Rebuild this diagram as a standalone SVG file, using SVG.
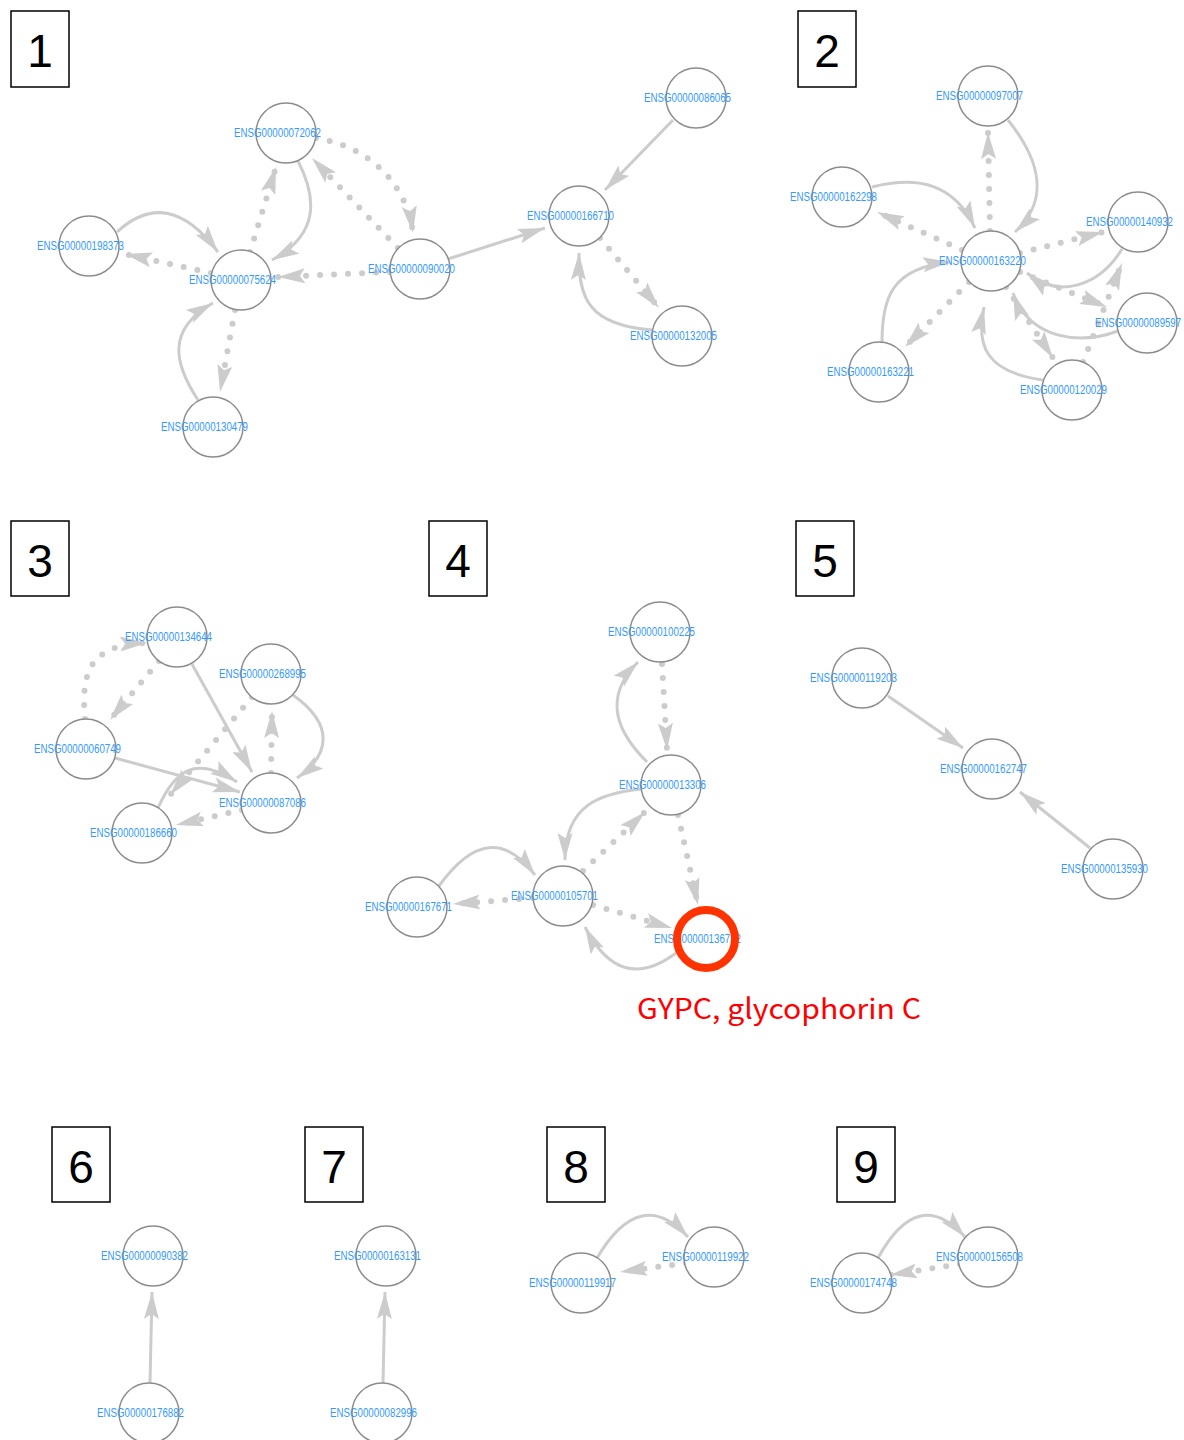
<svg xmlns="http://www.w3.org/2000/svg" width="1184" height="1440" viewBox="0 0 1184 1440">
<style>
.bg{fill:#ffffff}
.box{fill:none;stroke:#000;stroke-width:1.5}
.num{font-family:"Liberation Sans",Arial,sans-serif;font-size:46px;fill:#000;text-anchor:middle}
.s{fill:none;stroke:#cccccc;stroke-width:3;marker-end:url(#arr)}
.d{fill:none;stroke:#cccccc;stroke-width:6;stroke-linecap:round;stroke-dasharray:0 14;marker-end:url(#arr)}
.n circle{fill:#ffffff;stroke:#8c8c8c;stroke-width:1.5}
.n text{font-family:"Liberation Sans",Arial,sans-serif;font-size:12px;fill:#3399ff;text-anchor:middle}
.n circle.hl{fill:none;stroke:#ff3300;stroke-width:8}
.gy{font-family:"Noto Sans CJK JP","Noto Sans",sans-serif;font-size:28px;fill:#ff0000}
</style>
<defs>
<marker id="arr" viewBox="0 0 27 15" refX="27" refY="7.5" markerWidth="27" markerHeight="15" orient="auto" markerUnits="userSpaceOnUse">
<path d="M0,0 L27,7.5 L0,15 L5,7.5 Z" fill="#cccccc"/>
</marker>
</defs>
<rect class="bg" x="0" y="0" width="1184" height="1440"/>
<g id="panels">
<rect class="box" x="11" y="11" width="58" height="76"/><text class="num" x="40" y="67">1</text>
<rect class="box" x="798" y="11" width="58" height="76"/><text class="num" x="827" y="67">2</text>
<rect class="box" x="11" y="521" width="58" height="75"/><text class="num" x="40" y="577">3</text>
<rect class="box" x="429" y="521" width="58" height="75"/><text class="num" x="458" y="577">4</text>
<rect class="box" x="796" y="521" width="58" height="75"/><text class="num" x="825" y="577">5</text>
<rect class="box" x="52" y="1127" width="58" height="75"/><text class="num" x="81" y="1183">6</text>
<rect class="box" x="305" y="1127" width="58" height="75"/><text class="num" x="334" y="1183">7</text>
<rect class="box" x="547" y="1127" width="58" height="75"/><text class="num" x="576" y="1183">8</text>
<rect class="box" x="837" y="1127" width="58" height="75"/><text class="num" x="866" y="1183">9</text>
</g>
<g id="connectors">
<path class="s" d="M117,232 Q168,185 218,252"/>
<path class="d" d="M211,273 L125,254"/>
<path class="d" d="M250,252 L276,167"/>
<path class="s" d="M298,161 C318,200 318,235 272,260"/>
<path class="d" d="M390,272 L278,277"/>
<path class="d" d="M398,248 L312,158"/>
<path class="d" d="M316,138 C360,145 405,175 413,233"/>
<path class="s" d="M448,259 L545,228"/>
<path class="s" d="M198,400 C175,365 165,330 213,303"/>
<path class="d" d="M235,310 L220,392"/>
<path class="s" d="M673,120 L605,190"/>
<path class="d" d="M600,238 L659,308"/>
<path class="s" d="M652,330 C590,325 578,300 579,253"/>
<path class="d" d="M990,231 L988,132"/>
<path class="s" d="M1008,120 C1040,160 1050,200 1015,232"/>
<path class="s" d="M872,187 C920,175 955,185 975,228"/>
<path class="d" d="M962,250 L877,212"/>
<path class="d" d="M1020,253 L1103,232"/>
<path class="s" d="M1122,249 C1100,285 1060,300 1027,273"/>
<path class="d" d="M1020,272 L1107,307"/>
<path class="s" d="M1118,331 C1080,345 1030,340 1013,293"/>
<path class="d" d="M1083,362 L1122,263"/>
<path class="s" d="M1043,380 C985,372 976,345 984,307"/>
<path class="d" d="M1006,287 L1053,358"/>
<path class="d" d="M969,282 L905,347"/>
<path class="s" d="M882,342 C882,300 890,268 950,262"/>
<path class="d" d="M85,719 C80,665 95,645 147,643"/>
<path class="d" d="M159,661 L110,720"/>
<path class="s" d="M192,664 L252,772"/>
<path class="s" d="M293,695 C335,725 330,755 297,778"/>
<path class="d" d="M271,773 L272,711"/>
<path class="s" d="M115,758 L240,792"/>
<path class="d" d="M242,810 L176,825"/>
<path class="s" d="M158,808 C175,770 195,755 237,782"/>
<path class="d" d="M252,697 L170,795"/>
<path class="s" d="M647,762 C620,735 600,700 638,662"/>
<path class="d" d="M662,664 L667,750"/>
<path class="s" d="M642,789 C600,793 565,805 565,860"/>
<path class="d" d="M583,871 L645,812"/>
<path class="d" d="M678,815 L698,905"/>
<path class="s" d="M439,886 Q490,815 535,875"/>
<path class="d" d="M533,898 L453,904"/>
<path class="d" d="M593,905 L672,928"/>
<path class="s" d="M676,953 Q620,995 585,927"/>
<path class="s" d="M888,696 L963,748"/>
<path class="s" d="M1090,848 L1020,792"/>
<path class="s" d="M150,1383 L152,1292"/>
<path class="s" d="M383,1383 L385,1292"/>
<path class="s" d="M597,1258 Q640,1185 688,1237"/>
<path class="d" d="M686,1263 L620,1272"/>
<path class="s" d="M878,1258 Q918,1185 965,1237"/>
<path class="d" d="M960,1264 L890,1275"/>
</g>
<g id="n72062" class="n"><circle cx="286" cy="133" r="30"/><text x="277.5" y="137" textLength="87" lengthAdjust="spacingAndGlyphs">ENSG00000072062</text></g>
<g id="n198373" class="n"><circle cx="89" cy="246" r="30"/><text x="80.5" y="250" textLength="87" lengthAdjust="spacingAndGlyphs">ENSG00000198373</text></g>
<g id="n75624" class="n"><circle cx="241" cy="280" r="30"/><text x="232.5" y="284" textLength="87" lengthAdjust="spacingAndGlyphs">ENSG00000075624</text></g>
<g id="n90020" class="n"><circle cx="420" cy="269" r="30"/><text x="411.5" y="273" textLength="87" lengthAdjust="spacingAndGlyphs">ENSG00000090020</text></g>
<g id="n130479" class="n"><circle cx="213" cy="427" r="30"/><text x="204.5" y="431" textLength="87" lengthAdjust="spacingAndGlyphs">ENSG00000130479</text></g>
<g id="n86065" class="n"><circle cx="696" cy="98" r="30"/><text x="687.5" y="102" textLength="87" lengthAdjust="spacingAndGlyphs">ENSG00000086065</text></g>
<g id="n166710" class="n"><circle cx="579" cy="216" r="30"/><text x="570.5" y="220" textLength="87" lengthAdjust="spacingAndGlyphs">ENSG00000166710</text></g>
<g id="n132005" class="n"><circle cx="682" cy="336" r="30"/><text x="673.5" y="340" textLength="87" lengthAdjust="spacingAndGlyphs">ENSG00000132005</text></g>
<g id="n97007" class="n"><circle cx="988" cy="96" r="30"/><text x="979.5" y="100" textLength="87" lengthAdjust="spacingAndGlyphs">ENSG00000097007</text></g>
<g id="n162298" class="n"><circle cx="842" cy="197" r="30"/><text x="833.5" y="201" textLength="87" lengthAdjust="spacingAndGlyphs">ENSG00000162298</text></g>
<g id="n163220" class="n"><circle cx="991" cy="261" r="30"/><text x="982.5" y="265" textLength="87" lengthAdjust="spacingAndGlyphs">ENSG00000163220</text></g>
<g id="n140932" class="n"><circle cx="1138" cy="222" r="30"/><text x="1129.5" y="226" textLength="87" lengthAdjust="spacingAndGlyphs">ENSG00000140932</text></g>
<g id="n89597" class="n"><circle cx="1147" cy="323" r="30"/><text x="1138" y="327" textLength="86" lengthAdjust="spacingAndGlyphs">ENSG00000089597</text></g>
<g id="n163221" class="n"><circle cx="879" cy="372" r="30"/><text x="870.5" y="376" textLength="87" lengthAdjust="spacingAndGlyphs">ENSG00000163221</text></g>
<g id="n120029" class="n"><circle cx="1072" cy="390" r="30"/><text x="1063.5" y="394" textLength="87" lengthAdjust="spacingAndGlyphs">ENSG00000120029</text></g>
<g id="n134644" class="n"><circle cx="177" cy="637" r="30"/><text x="168.5" y="641" textLength="87" lengthAdjust="spacingAndGlyphs">ENSG00000134644</text></g>
<g id="n268995" class="n"><circle cx="271" cy="674" r="30"/><text x="262.5" y="678" textLength="87" lengthAdjust="spacingAndGlyphs">ENSG00000268995</text></g>
<g id="n60749" class="n"><circle cx="86" cy="749" r="30"/><text x="77.5" y="753" textLength="87" lengthAdjust="spacingAndGlyphs">ENSG00000060749</text></g>
<g id="n87086" class="n"><circle cx="271" cy="803" r="30"/><text x="262.5" y="807" textLength="87" lengthAdjust="spacingAndGlyphs">ENSG00000087086</text></g>
<g id="n186660" class="n"><circle cx="142" cy="833" r="30"/><text x="133.5" y="837" textLength="87" lengthAdjust="spacingAndGlyphs">ENSG00000186660</text></g>
<g id="n100225" class="n"><circle cx="660" cy="632" r="30"/><text x="651.5" y="636" textLength="87" lengthAdjust="spacingAndGlyphs">ENSG00000100225</text></g>
<g id="n13306" class="n"><circle cx="671" cy="785" r="30"/><text x="662.5" y="789" textLength="87" lengthAdjust="spacingAndGlyphs">ENSG00000013306</text></g>
<g id="n105701" class="n"><circle cx="563" cy="896" r="30"/><text x="554.5" y="900" textLength="87" lengthAdjust="spacingAndGlyphs">ENSG00000105701</text></g>
<g id="n167671" class="n"><circle cx="417" cy="907" r="30"/><text x="408.5" y="911" textLength="87" lengthAdjust="spacingAndGlyphs">ENSG00000167671</text></g>
<g id="n136732" class="n"><circle cx="706" cy="939" r="30"/><text x="697.5" y="943" textLength="87" lengthAdjust="spacingAndGlyphs">ENSG00000136732</text><circle class="hl" cx="706" cy="939" r="29"/></g>
<g id="n119203" class="n"><circle cx="862" cy="678" r="30"/><text x="853.5" y="682" textLength="87" lengthAdjust="spacingAndGlyphs">ENSG00000119203</text></g>
<g id="n162747" class="n"><circle cx="992" cy="769" r="30"/><text x="983.5" y="773" textLength="87" lengthAdjust="spacingAndGlyphs">ENSG00000162747</text></g>
<g id="n135930" class="n"><circle cx="1113" cy="869" r="30"/><text x="1104.5" y="873" textLength="87" lengthAdjust="spacingAndGlyphs">ENSG00000135930</text></g>
<g id="n90382" class="n"><circle cx="153" cy="1256" r="30"/><text x="144.5" y="1260" textLength="87" lengthAdjust="spacingAndGlyphs">ENSG00000090382</text></g>
<g id="n176882" class="n"><circle cx="149" cy="1413" r="30"/><text x="140.5" y="1417" textLength="87" lengthAdjust="spacingAndGlyphs">ENSG00000176882</text></g>
<g id="n163131" class="n"><circle cx="386" cy="1256" r="30"/><text x="377.5" y="1260" textLength="87" lengthAdjust="spacingAndGlyphs">ENSG00000163131</text></g>
<g id="n82996" class="n"><circle cx="382" cy="1413" r="30"/><text x="373.5" y="1417" textLength="87" lengthAdjust="spacingAndGlyphs">ENSG00000082996</text></g>
<g id="n119917" class="n"><circle cx="581" cy="1283" r="30"/><text x="572.5" y="1287" textLength="87" lengthAdjust="spacingAndGlyphs">ENSG00000119917</text></g>
<g id="n119922" class="n"><circle cx="714" cy="1257" r="30"/><text x="705.5" y="1261" textLength="87" lengthAdjust="spacingAndGlyphs">ENSG00000119922</text></g>
<g id="n174748" class="n"><circle cx="862" cy="1283" r="30"/><text x="853.5" y="1287" textLength="87" lengthAdjust="spacingAndGlyphs">ENSG00000174748</text></g>
<g id="n156508" class="n"><circle cx="988" cy="1257" r="30"/><text x="979.5" y="1261" textLength="87" lengthAdjust="spacingAndGlyphs">ENSG00000156508</text></g>
<text class="gy" x="637" y="1019" textLength="284" lengthAdjust="spacingAndGlyphs">GYPC, glycophorin C</text>
</svg>
